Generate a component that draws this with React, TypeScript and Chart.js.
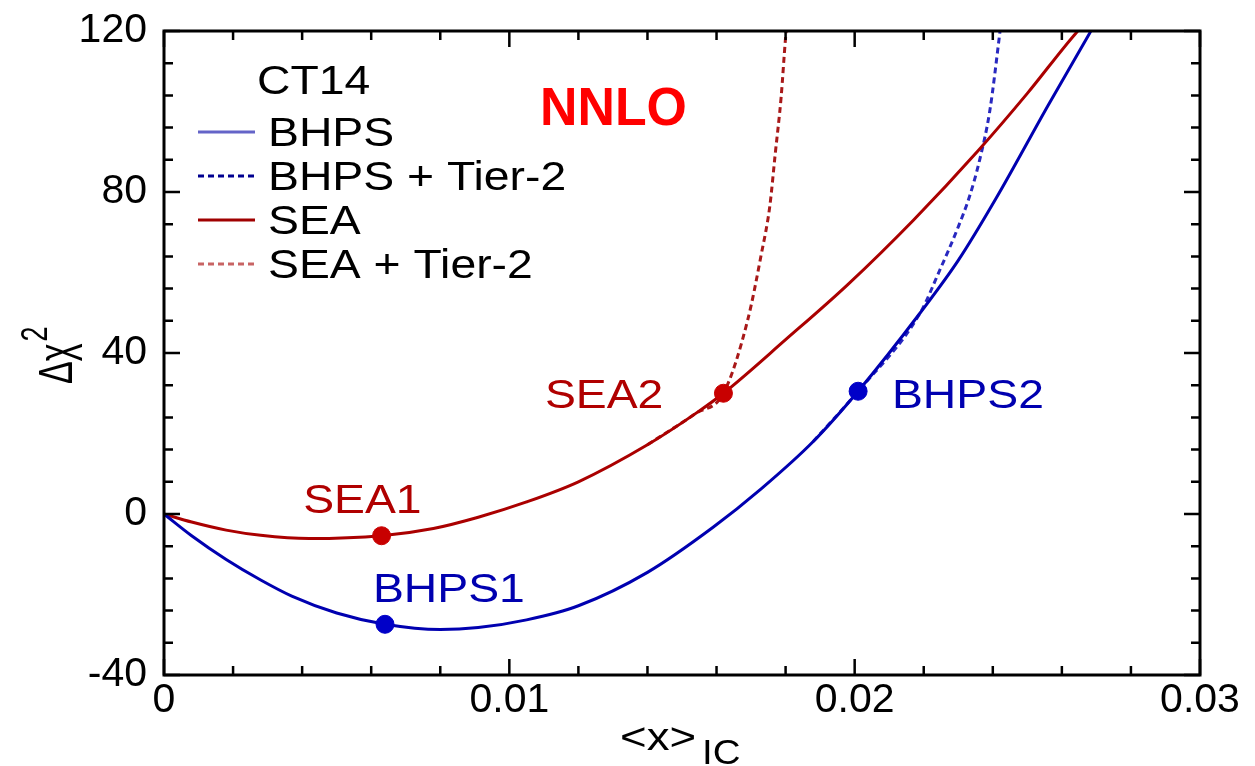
import React, { useEffect, useRef } from "react";
import { Chart, registerables } from "chart.js";

Chart.register(...registerables);

// ---------- data ----------
const bhpsX = [0, 0.0008, 0.0018, 0.0028, 0.0037, 0.005, 0.0064, 0.008, 0.0091, 0.0105, 0.012, 0.014, 0.0159, 0.0173, 0.0188, 0.0201, 0.0219, 0.023, 0.0241, 0.0256, 0.0268, 0.0271];
const bhpsY = [0, -5.4, -11.3, -16.4, -20.4, -24.6, -27.4, -28.7, -28.2, -26.3, -22.8, -14.5, -3.3, 6.3, 18, 30.5, 50, 63, 78.5, 101.5, 119.4, 124];

const bhpsT2X = [0.0188, 0.0201, 0.0219, 0.02246, 0.02296, 0.02333, 0.02362, 0.02391, 0.0242, 0.02428];
const bhpsT2Y = [18, 30.5, 50, 60.5, 70.5, 79, 88, 100, 119.3, 125];

const seaX = [0, 0.0008, 0.0018, 0.0028, 0.0042, 0.0063, 0.0078, 0.0091, 0.0105, 0.012, 0.014, 0.0154, 0.0162, 0.018, 0.0198, 0.0217, 0.0236, 0.025, 0.0264, 0.0268];
const seaY = [0, -2, -4, -5.3, -6.1, -5.4, -3.6, -0.8, 3, 8, 17.2, 25, 30, 43.3, 57, 73, 90.5, 104.5, 119.4, 123];

const seaT2X = [0.014, 0.0154, 0.0162, 0.0169, 0.0173, 0.01754, 0.0177, 0.01787, 0.018, 0.01808];
const seaT2Y = [17.2, 25, 30, 48.1, 64.7, 76.3, 89.5, 103.5, 118.4, 125];

const markerNames = ["SEA1", "SEA2", "BHPS1", "BHPS2"];
const markerX = [0.0063, 0.0162, 0.0064, 0.0201];
const markerY = [-5.4, 30, -27.4, 30.5];

const xTickValues = [0, 0.01, 0.02, 0.03];
const yTickValues = [-40, 0, 40, 80, 120];

const legendTitle = "CT14";
const seriesNames = ["BHPS", "BHPS + Tier-2", "SEA", "SEA + Tier-2"];
const headline = "NNLO";

// ---------- styling ----------
const FONT = "'Liberation Sans', Arial, sans-serif";
const SX = 1.13;

const pts = (xs: number[], ys: number[]) => xs.map((x, i) => ({ x, y: ys[i] }));

function stretchedText(
  ctx: CanvasRenderingContext2D,
  text: string,
  x: number,
  y: number,
  font: string,
  color: string,
  sx = SX
) {
  ctx.save();
  ctx.translate(x, y);
  ctx.scale(sx, 1);
  ctx.font = font;
  ctx.fillStyle = color;
  ctx.textAlign = "left";
  ctx.textBaseline = "alphabetic";
  ctx.fillText(text, 0, 0);
  ctx.restore();
}

const decorPlugin = {
  id: "decor",
  afterDraw(chart: any) {
    const ctx: CanvasRenderingContext2D = chart.ctx;
    const { left, right, top, bottom } = chart.chartArea;
    const xs = chart.scales.x;
    const ys = chart.scales.y;

    // frame
    ctx.save();
    ctx.strokeStyle = "#000";
    ctx.lineWidth = 3;
    ctx.strokeRect(left, top, right - left, bottom - top);

    // inward ticks
    ctx.lineWidth = 2.5;
    ctx.beginPath();
    for (let i = 0; i <= 15; i++) {
      const v = i * 0.002;
      const px = xs.getPixelForValue(v);
      const len = i % 5 === 0 ? 16 : 9;
      ctx.moveTo(px, bottom);
      ctx.lineTo(px, bottom - len);
      ctx.moveTo(px, top);
      ctx.lineTo(px, top + len);
    }
    for (let i = 0; i <= 20; i++) {
      const v = -40 + i * 8;
      const py = ys.getPixelForValue(v);
      const len = i % 5 === 0 ? 16 : 9;
      ctx.moveTo(left, py);
      ctx.lineTo(left + len, py);
      ctx.moveTo(right, py);
      ctx.lineTo(right - len, py);
    }
    ctx.stroke();
    ctx.restore();

    // legend
    const lf = `41px ${FONT}`;
    stretchedText(ctx, legendTitle, left + 93, top + 63, lf, "#000");
    const legendColors = ["#6464c8", "#000090", "#a00000", "#c86464"];
    const legendDash = [[], [6, 4], [], [6, 4]];
    for (let i = 0; i < seriesNames.length; i++) {
      const base = top + 115 + i * 44;
      ctx.save();
      ctx.strokeStyle = legendColors[i];
      ctx.lineWidth = 3;
      ctx.setLineDash(legendDash[i]);
      ctx.beginPath();
      ctx.moveTo(left + 34, base - 14);
      ctx.lineTo(left + 91, base - 14);
      ctx.stroke();
      ctx.restore();
      stretchedText(ctx, seriesNames[i], left + 104, base, lf, "#000");
    }

    // NNLO
    ctx.save();
    ctx.translate(xs.getPixelForValue(0.01089), ys.getPixelForValue(96.6));
    ctx.scale(0.96, 1);
    ctx.font = `bold 54px ${FONT}`;
    ctx.fillStyle = "#ff0000";
    ctx.fillText(headline, 0, 0);
    ctx.restore();

    // point labels
    const labelX = [0.00403, 0.01103, 0.00605, 0.02108];
    const labelY = [0.25, 26.3, -21.9, 26.3];
    const labelColors = ["#b00000", "#b00000", "#0000b0", "#0000b0"];
    for (let i = 0; i < markerNames.length; i++) {
      stretchedText(
        ctx,
        markerNames[i],
        xs.getPixelForValue(labelX[i]),
        ys.getPixelForValue(labelY[i]),
        `41px ${FONT}`,
        labelColors[i]
      );
    }

    // x title  <x>_IC
    stretchedText(ctx, "<x>", 620, 750, `38px ${FONT}`, "#000", 1.2);
    stretchedText(ctx, "IC", 702, 764, `35px ${FONT}`, "#000", 1.1);

    // y title  Δχ²
    ctx.save();
    ctx.translate(72, 384);
    ctx.rotate(-Math.PI / 2);
    ctx.scale(1, 1.4);
    ctx.fillStyle = "#000";
    ctx.textBaseline = "alphabetic";
    ctx.font = `34px ${FONT}`;
    ctx.fillText("Δχ", 0, 0);
    const w = ctx.measureText("Δχ").width;
    ctx.font = `27px ${FONT}`;
    ctx.fillText("2", w + 2, -18);
    ctx.restore();
  },
};

export default function App() {
  const ref = useRef<HTMLCanvasElement>(null);

  useEffect(() => {
    const canvas = ref.current;
    if (!canvas) return;
    const lineCommon = {
      pointRadius: 0,
      borderWidth: 3,
      fill: false,
      cubicInterpolationMode: "monotone" as const,
      showLine: true,
    };
    const chart = new Chart(canvas, {
      type: "scatter",
      data: {
        datasets: [
          {
            label: "SEA points",
            data: pts(markerX.slice(0, 2), markerY.slice(0, 2)),
            pointRadius: 9,
            pointBackgroundColor: "#c80000",
            pointBorderColor: "#c80000",
            showLine: false,
          },
          {
            label: "BHPS points",
            data: pts(markerX.slice(2), markerY.slice(2)),
            pointRadius: 9,
            pointBackgroundColor: "#0000c8",
            pointBorderColor: "#0000c8",
            showLine: false,
          },
          { ...lineCommon, label: seriesNames[0], data: pts(bhpsX, bhpsY), borderColor: "#0000b0" },
          { ...lineCommon, label: seriesNames[2], data: pts(seaX, seaY), borderColor: "#aa0000" },
          {
            ...lineCommon,
            label: seriesNames[1],
            data: pts(bhpsT2X, bhpsT2Y),
            borderColor: "#2828c0",
            borderDash: [6, 4],
          },
          {
            ...lineCommon,
            label: seriesNames[3],
            data: pts(seaT2X, seaT2Y),
            borderColor: "#a81818",
            borderDash: [6, 4],
          },
        ],
      },
      options: {
        animation: false,
        responsive: false,
        maintainAspectRatio: false,
        layout: { padding: { left: 0, top: 31, right: 55, bottom: 0 } },
        plugins: {
          legend: { display: false },
          tooltip: { enabled: false },
          title: { display: false },
        },
        scales: {
          x: {
            type: "linear",
            min: 0,
            max: 0.03,
            grid: { display: false, drawTicks: false },
            border: { display: false },
            afterBuildTicks: (s: any) => {
              s.ticks = xTickValues.map((v) => ({ value: v }));
            },
            afterFit: (s: any) => {
              s.height = 91;
              s.paddingLeft = 0;
              s.paddingRight = 0;
              s.paddingTop = 0;
              s.paddingBottom = 0;
            },
            ticks: {
              autoSkip: false,
              maxRotation: 0,
              padding: 1,
              color: "#000",
              font: { family: FONT, size: 41 },
              callback: (v: any) => String(Number(Number(v).toFixed(3))),
            },
          },
          y: {
            type: "linear",
            min: -40,
            max: 120,
            grid: { display: false, drawTicks: false },
            border: { display: false },
            afterBuildTicks: (s: any) => {
              s.ticks = yTickValues.map((v) => ({ value: v }));
            },
            afterFit: (s: any) => {
              s.width = 164;
              s.paddingLeft = 0;
              s.paddingRight = 0;
              s.paddingTop = 0;
              s.paddingBottom = 0;
            },
            ticks: {
              autoSkip: false,
              padding: 17,
              color: "#000",
              font: { family: FONT, size: 41 },
              callback: (v: any) => String(v),
            },
          },
        },
      },
      plugins: [decorPlugin],
    });
    return () => chart.destroy();
  }, []);

  return (
    <div style={{ position: "absolute", left: 0, top: 0, width: 1255, height: 766, background: "#fff" }}>
      <canvas ref={ref} width={1255} height={766} style={{ display: "block" }} />
    </div>
  );
}
